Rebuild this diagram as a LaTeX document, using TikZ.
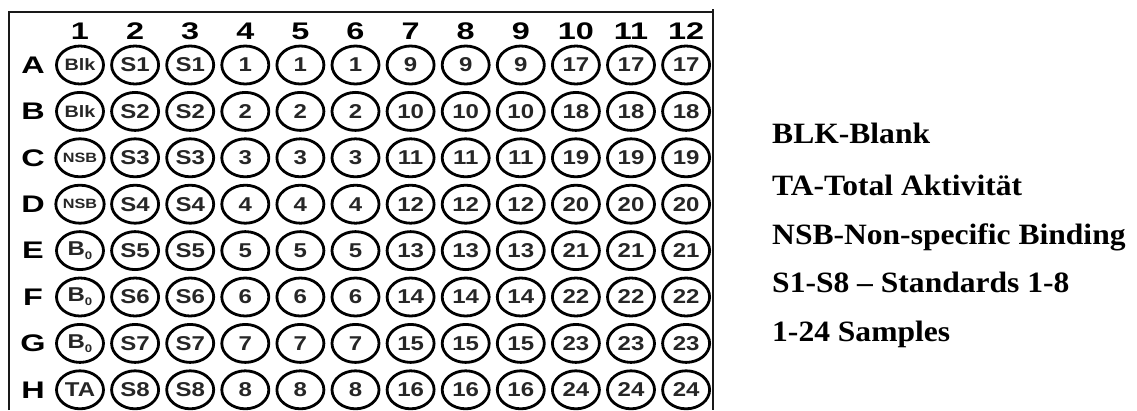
\documentclass[tikz,border=0pt]{standalone}
\usepackage{fontspec}
\usetikzlibrary{shapes.geometric}
\newfontfamily\platefont[FakeStretch=1.35]{Liberation Sans}
\newfontfamily\wellfont[FakeStretch=1.2]{Liberation Sans}
\newfontfamily\legfont[FakeStretch=1.07]{Liberation Serif}
\tikzset{
  well/.style={ellipse, draw=black, line width=2.8pt, minimum width=47pt, minimum height=38pt, inner sep=0pt,
    font=\wellfont\bfseries\fontsize{20}{20}\selectfont, text=black!85},
  small/.style={font=\wellfont\bfseries\fontsize{16.5}{16.5}\selectfont},
  tiny/.style={font=\wellfont\bfseries\fontsize{13.5}{13.5}\selectfont},
  head/.style={font=\platefont\bfseries\fontsize{24}{24}\selectfont, inner sep=0pt},
  legend/.style={font=\legfont\bfseries\fontsize{29.5}{29.5}\selectfont, anchor=base west, inner sep=0pt},
  border/.style={line width=2.6pt, black!90}
}
\newcommand{\bsub}{B\raisebox{-4pt}{\fontsize{11}{11}\selectfont 0}}
\begin{document}
\begin{tikzpicture}[x=1pt, y=-1pt]
\useasboundingbox (0,0) rectangle (1137,410);
% plate outline
\coordinate (tl) at (9,12);
\coordinate (tr) at (713,12);
\coordinate (bl) at (9,410);
\coordinate (br) at (713,410);
\coordinate (trtop) at (713,9);
\draw[border] (bl) -- (tl) -- (tr);
\draw[border] (trtop) -- (br);
% column headers
\foreach \c in {1,...,12} {
  \node[head] (col\c) at ({80+55.1*(\c-1)},31) {\c};
}
% row letters
\foreach \r/\L in {1/A,2/B,3/C,4/D,5/E,6/F,7/G,8/H} {
  \node[head] (row\L) at (33,{65+46.4*(\r-1)}) {\L};
}
% column 1 wells
\foreach \r/\t/\s in {1/Blk/small,2/Blk/small,3/NSB/tiny,4/NSB/tiny,5/\bsub/well,6/\bsub/well,7/\bsub/well,8/TA/well} {
  \node[well,\s] (w-\r-1) at (80,{65+46.4*(\r-1)}) {\t};
}
\foreach \r in {1,...,8} {
  \pgfmathtruncatemacro{\ra}{\r}
  \pgfmathtruncatemacro{\rb}{\r+8}
  \pgfmathtruncatemacro{\rc}{\r+16}
  \foreach \c in {2,3} {
    \node[well] (w-\r-\c) at ({80+55.1*(\c-1)},{65+46.4*(\r-1)}) {S\ra};
  }
  \foreach \c in {4,5,6} {
    \node[well] (w-\r-\c) at ({80+55.1*(\c-1)},{65+46.4*(\r-1)}) {\ra};
  }
  \foreach \c in {7,8,9} {
    \node[well] (w-\r-\c) at ({80+55.1*(\c-1)},{65+46.4*(\r-1)}) {\rb};
  }
  \foreach \c in {10,11,12} {
    \node[well] (w-\r-\c) at ({80+55.1*(\c-1)},{65+46.4*(\r-1)}) {\rc};
  }
}
% legend
\node[legend] (leg1) at (772,143) {BLK-Blank};
\node[legend] (leg2) at (772,195) {TA-Total Aktivität};
\node[legend] (leg3) at (772,244) {NSB-Non-specific Binding};
\node[legend] (leg4) at (772,292) {S1-S8 – Standards 1-8};
\node[legend] (leg5) at (772,341) {1-24 Samples};
\end{tikzpicture}
\end{document}
